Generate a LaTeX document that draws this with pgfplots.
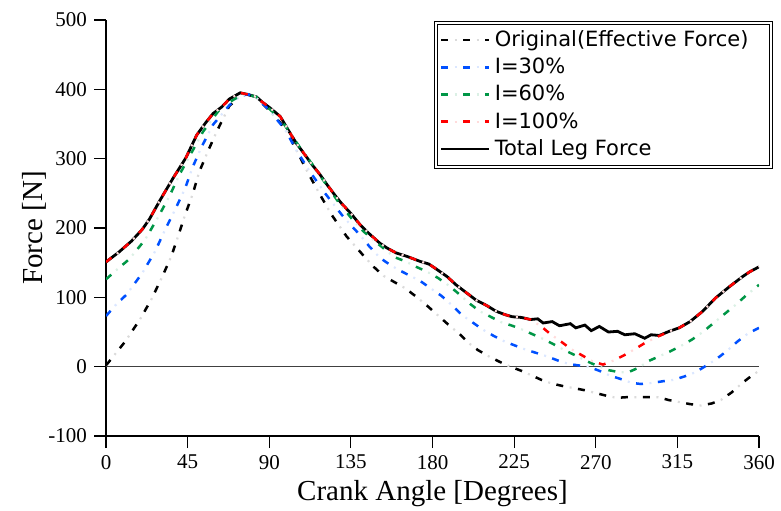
\documentclass[border=0pt]{standalone}
\usepackage{pgfplots}
\pgfplotsset{compat=1.18}
\usepackage{fontspec}
\setmainfont{Liberation Serif}
\newfontfamily\legfont{DejaVu Sans}
\definecolor{cBlue}{RGB}{0,80,255}
\definecolor{cGreen}{RGB}{0,150,70}
\definecolor{cRed}{RGB}{255,0,0}
\tikzset{
  dsh/.style={#1, line width=1.25pt, dash pattern=on 3.5pt off 7.5pt},
  dot/.style={#1!14, line width=1.1pt, dash pattern=on 1pt off 10pt, dash phase=4.25pt},
}
\newcommand\legdash[1]{\addlegendimage{legend image code/.code={\draw[dsh=#1] (0pt,0pt)--(24pt,0pt);\draw[dot=#1] (0pt,0pt)--(24pt,0pt);}}}
\begin{document}
\begin{tikzpicture}
\begin{axis}[
  scale only axis, width=326.5pt, height=208pt,
  xmin=0, xmax=360, ymin=-100, ymax=500,
  axis x line=bottom, axis y line=left,
  axis line style={-, line width=0.6pt},
  xtick={0,45,...,360}, ytick={-100,0,...,500},
  tick align=outside, major tick length=6pt,
  tick style={black, line width=0.6pt},
  ticklabel style={font=\fontsize{10.5}{12}\selectfont},
  /pgf/number format/assume math mode=true,
  xlabel={Crank Angle [Degrees]}, ylabel={Force [N]},
  label style={font=\fontsize{14.5}{16}\selectfont},
  xlabel style={at={(axis description cs:0.5,-0.156)}, anchor=base},
  ylabel style={at={(axis description cs:-0.109,0.5)}, anchor=center},
  legend cell align=left,
  legend style={at={(axis description cs:1,1)}, anchor=north east, xshift=6pt, yshift=-1pt,
    draw=black, double=white, double distance=1pt, line width=0.5pt,
    font=\legfont\fontsize{10.5}{13}\selectfont, inner sep=2pt, row sep=0.3pt},
]
\coordinate (ll) at (rel axis cs:0,0);
\coordinate (ur) at (rel axis cs:1,1);
\draw[line width=0.6pt, black!75] (axis cs:0,0) -- (axis cs:360,0);

% Total Leg Force
\addplot[black, line width=1.4pt, forget plot] coordinates {
(0,151)(7,165)(14,181)(20,198)(24,213)(30,241)(37,272)(44,301)(50,334)(55,352)(59,365)(64,375)(68,386)(74,395)(79,392)(83,389)(86,382)(91,372)(96,361)(101,339)(105,322)(109,308)(114,290)(118,277)(122,262)(126,248)(130,235)(135,221)(140,205)(145,192)(151,178)(155,171)(160,164)(166,159)(173,152)(178,148)(182,141)(188,130)(193,118)(199,106)(204,96)(210,88)(215,80)(220,75)(224,72)(229,71)(234,68)(238,69)(241,63)(246,65)(250,59)(256,62)(259,56)(264,60)(267.5,52)(272,58)(277,50)(282,51)(286,46)(291.5,47.5)(297,41)(300.5,46)(305,45)(310.5,51)(316,56)(322,65)(329,80)(336,99)(344,116)(351,130)(355,137)(360,144)};

% Original
\addplot[dot=black, forget plot] coordinates {
(0,2)(1.3,6)(10.5,36)(18.7,68)(25,97)(30.7,128)(36,159)(40,190)(43.6,219)(47.8,249)(51.4,281)(56.4,312)(61.4,341)(68,376)(73,388)(77,393)(82,390)(88,375)(94,358)(99.6,341)(105,312)(111.5,279)(118,248)(124.4,219)(132.6,188)(138,172)(143,157)(148,143)(153,131)(159,122)(165,113)(171,101)(177,88)(183,74)(189,60)(195,47)(200,34)(205,24)(211,15)(217,7)(223,0)(229,-6)(235,-13)(240,-19)(246,-24.5)(252,-28)(258,-31)(264,-34)(270,-38)(276,-42)(281.5,-45)(287,-44)(293,-44)(299,-44)(304.5,-44)(310,-48)(316,-51)(322,-54)(328,-56)(334,-53)(339,-48)(345,-37)(351,-23)(356,-13)(360,-6)};
\addplot[dsh=black, forget plot] coordinates {
(0,2)(1.3,6)(10.5,36)(18.7,68)(25,97)(30.7,128)(36,159)(40,190)(43.6,219)(47.8,249)(51.4,281)(56.4,312)(61.4,341)(68,376)(73,388)(77,393)(82,390)(88,375)(94,358)(99.6,341)(105,312)(111.5,279)(118,248)(124.4,219)(132.6,188)(138,172)(143,157)(148,143)(153,131)(159,122)(165,113)(171,101)(177,88)(183,74)(189,60)(195,47)(200,34)(205,24)(211,15)(217,7)(223,0)(229,-6)(235,-13)(240,-19)(246,-24.5)(252,-28)(258,-31)(264,-34)(270,-38)(276,-42)(281.5,-45)(287,-44)(293,-44)(299,-44)(304.5,-44)(310,-48)(316,-51)(322,-54)(328,-56)(334,-53)(339,-48)(345,-37)(351,-23)(356,-13)(360,-6)};

% I=30%
\addplot[dot=cBlue, forget plot] coordinates {
(0,73)(5,88)(11.3,104)(20,135)(27,166)(32.5,197)(38,226)(43.6,257)(47.8,288)(52.7,317)(59,349)(68,377)(74,390)(78,393)(83,388)(90,370)(98.7,342)(105,312)(112.5,281)(120.8,250)(130,219)(135,204)(140,190)(145,174)(151,157)(156,148)(161,140)(167,132)(173,124)(179,113)(185,102)(191,88)(196,75)(202,64)(208,53)(214,44)(220,36)(226,30)(231.5,24.5)(237,20)(243,15)(249,9)(255,4)(260,2)(266,0)(272,-6)(278,-13)(284,-18)(290,-23.5)(295,-25)(301,-23.5)(307,-21)(313,-19)(319,-14)(325,-8)(330,0)(336,10)(342,22)(348,36)(354,48)(360,56)};
\addplot[dsh=cBlue, forget plot] coordinates {
(0,73)(5,88)(11.3,104)(20,135)(27,166)(32.5,197)(38,226)(43.6,257)(47.8,288)(52.7,317)(59,349)(68,377)(74,390)(78,393)(83,388)(90,370)(98.7,342)(105,312)(112.5,281)(120.8,250)(130,219)(135,204)(140,190)(145,174)(151,157)(156,148)(161,140)(167,132)(173,124)(179,113)(185,102)(191,88)(196,75)(202,64)(208,53)(214,44)(220,36)(226,30)(231.5,24.5)(237,20)(243,15)(249,9)(255,4)(260,2)(266,0)(272,-6)(278,-13)(284,-18)(290,-23.5)(295,-25)(301,-23.5)(307,-21)(313,-19)(319,-14)(325,-8)(330,0)(336,10)(342,22)(348,36)(354,48)(360,56)};

% I=60%
\addplot[dot=cGreen, forget plot] coordinates {
(0,126)(6,140)(12.8,155)(21.5,183)(28.8,216)(35,246)(40.5,277)(47,308)(53.5,339)(61.8,368)(67,380)(72.9,389)(77,393)(83,389)(90,372)(96,358)(101,339)(108,312)(114,291)(120,268)(128,238)(135,215)(142,195)(151,175)(159,158)(165,152)(171,144)(177,137)(183,128)(189,117)(195,104)(200,92)(206,80)(212,72)(218,64)(224,59)(229,54)(235,47)(241,40)(247,32)(253,23.5)(259,16)(265,8)(271,1)(277,-5)(283,-8)(288,-8)(294,-1)(299,8)(305,15)(311,22)(317,30)(323,39)(329,50)(335,63)(341,76)(347,89)(353,103)(360,118)};
\addplot[dsh=cGreen, forget plot] coordinates {
(0,126)(6,140)(12.8,155)(21.5,183)(28.8,216)(35,246)(40.5,277)(47,308)(53.5,339)(61.8,368)(67,380)(72.9,389)(77,393)(83,389)(90,372)(96,358)(101,339)(108,312)(114,291)(120,268)(128,238)(135,215)(142,195)(151,175)(159,158)(165,152)(171,144)(177,137)(183,128)(189,117)(195,104)(200,92)(206,80)(212,72)(218,64)(224,59)(229,54)(235,47)(241,40)(247,32)(253,23.5)(259,16)(265,8)(271,1)(277,-5)(283,-8)(288,-8)(294,-1)(299,8)(305,15)(311,22)(317,30)(323,39)(329,50)(335,63)(341,76)(347,89)(353,103)(360,118)};

% I=100%
\addplot[dot=cRed, forget plot] coordinates {
(0,151)(7,165)(14,181)(20,198)(24,213)(30,241)(37,272)(44,301)(50,334)(55,352)(59,365)(64,375)(68,386)(74,395)(79,392)(83,389)(86,382)(91,372)(96,361)(101,339)(105,322)(109,308)(114,290)(118,277)(122,262)(126,248)(130,235)(135,221)(140,205)(145,192)(151,178)(155,171)(160,164)(166,159)(173,152)(178,148)(182,141)(188,130)(193,118)(199,106)(204,96)(210,88)(215,80)(220,75)(224,72)(229,71)(234,68)(240,58)(245,47)(251,36)(256,26)(262,17)(268,8)(274,3)(280,9)(286,17)(292,26)(297,34)(303,42)(309,49)(310.5,51)(316,56)(322,65)(329,80)(336,99)(344,116)(351,130)(355,137)(360,144)};
\addplot[dsh=cRed, forget plot] coordinates {
(0,151)(7,165)(14,181)(20,198)(24,213)(30,241)(37,272)(44,301)(50,334)(55,352)(59,365)(64,375)(68,386)(74,395)(79,392)(83,389)(86,382)(91,372)(96,361)(101,339)(105,322)(109,308)(114,290)(118,277)(122,262)(126,248)(130,235)(135,221)(140,205)(145,192)(151,178)(155,171)(160,164)(166,159)(173,152)(178,148)(182,141)(188,130)(193,118)(199,106)(204,96)(210,88)(215,80)(220,75)(224,72)(229,71)(234,68)(240,58)(245,47)(251,36)(256,26)(262,17)(268,8)(274,3)(280,9)(286,17)(292,26)(297,34)(303,42)(309,49)(310.5,51)(316,56)(322,65)(329,80)(336,99)(344,116)(351,130)(355,137)(360,144)};

\legdash{black}\addlegendentry{Original(Effective Force)\hspace*{7pt}\mbox{}}
\legdash{cBlue}\addlegendentry{I=30\%}
\legdash{cGreen}\addlegendentry{I=60\%}
\legdash{cRed}\addlegendentry{I=100\%}
\addlegendimage{legend image code/.code={\draw[black,line width=1.4pt] (0pt,0pt)--(24pt,0pt);}}
\addlegendentry{Total Leg Force}
\end{axis}
\draw[line width=0.6pt] (ll) -- ++(0pt,-5.5pt);
\pgfresetboundingbox
\path[use as bounding box] ([shift={(-53pt,-37pt)}]ll) rectangle ([shift={(11pt,10pt)}]ur);
\end{tikzpicture}
\end{document}
